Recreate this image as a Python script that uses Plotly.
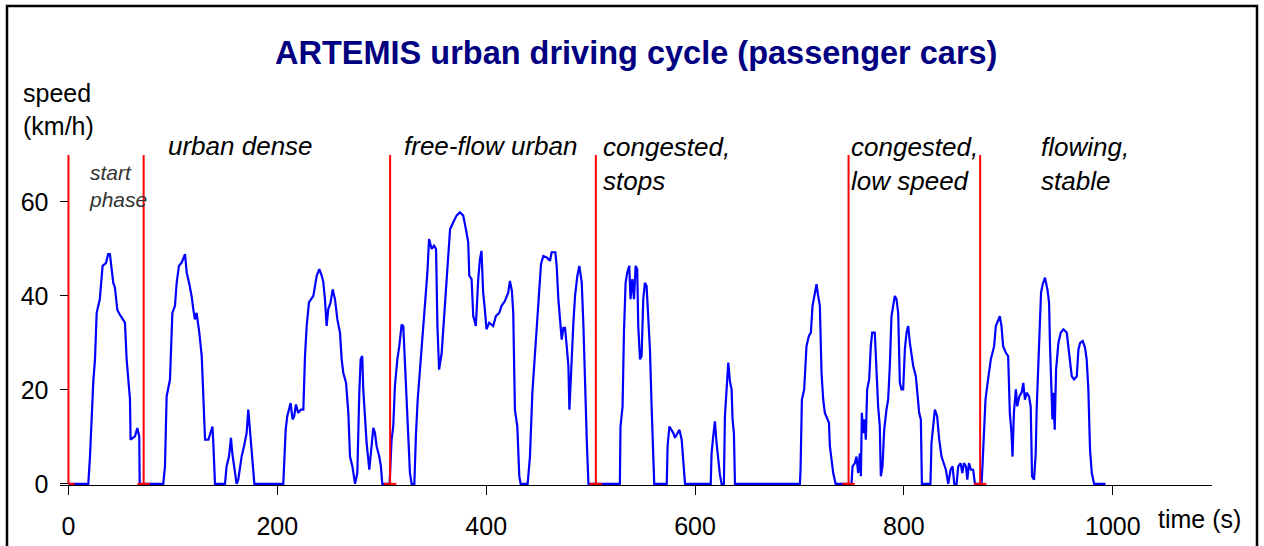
import plotly.graph_objects as go

# ---------------- data ----------------
time_s = [0, 19, 20.6, 22.2, 23.8, 25.4, 27, 30, 32.7, 35.9, 38, 39.7, 41.3, 42.9, 44.5, 46.8, 49.3, 52.5, 54.1, 55.7,
          58.9, 59.5, 63.7, 65.9, 67.8, 68.2,
          90.8, 92.4, 94, 97.2, 99.5, 102, 103.6, 105.8, 108.4, 111.6, 113.2, 115.8, 117.9, 119.5, 121.1, 122.7, 125.3,
          127.6, 129.2, 130.8, 134, 136.1, 137.9, 138.7, 139.6, 140.3,
          149.9, 151.4, 153.7, 155.6, 156.9, 158.8, 161, 162.6, 164.3, 165.8, 168.1, 170.6, 172.2, 173.8, 175.4, 177, 178,
          205.7, 206.6, 208, 209.5, 211.1, 212.7, 214.6, 216.2, 217.8, 220, 222.6, 224.9, 226.5, 228.1, 230.3, 234.5,
          237.7, 240.2, 242.5, 244, 245.6, 247.2, 248.8, 251, 253, 255.2, 257.5, 260, 261.6, 263.2, 265.8, 268, 269.6,
          271.9, 274.4, 276.6, 278.5, 279.8, 281.3, 282.3, 283.9, 285.5, 288.1, 289.6, 291.9, 293.5, 295.1, 297.6, 299.2,
          300.5,
          307.5, 309.4, 311, 312.6, 314.9, 316.8, 319, 320.6, 322.2, 323.8, 325.4, 327, 328.6, 331.2, 332.8, 334.4, 336.6,
          339.2, 341.4, 343.7, 345.3, 347.8, 350.1, 352, 353.3, 354.9, 357.4, 359.7, 362.2, 365.4, 368.5, 371.6, 374.8,
          378, 380.6, 382.8, 383.8, 386, 387.6, 390.1, 392.4, 394, 395.5, 397.1, 398.7, 400.3, 402.9, 406.7, 409.3, 412.5,
          414.7, 417.9, 421.1, 422.7, 424.6, 425.9, 427.5, 429.8, 431.7, 433, 439.7, 441.9, 444.2, 445.8, 447.7, 449.3,
          450.9, 452.5, 454.7, 457.9, 461.1, 462.7, 466.2, 467.5, 469.1, 470.7, 472.3, 473.9, 475.5, 477.1, 478.7, 479.7,
          480.9, 483.5, 485.1, 487.3, 489.2, 491.5, 493.1, 494.7, 496.3, 497.9,
          528, 528.6, 530.6, 531.9, 533.5, 535.1, 537, 538.2, 539.9, 541.5, 543.1, 544.6, 545.6, 547.3, 548.8, 550.4, 552,
          553.6, 555.2, 556.8, 558.4, 560, 560.9, 572.9, 573.7, 575.4, 577.6, 579.2, 580.8, 583, 585, 587.2, 588.8, 590.4,
          615, 615.8, 617.4, 619, 620.6, 622.2, 623.8, 625.4, 627.6, 628.6, 630.2, 631.8, 633.4, 635, 635.9, 637.2, 638.2,
          700.4, 701, 702.3, 704.5, 706.7, 709, 710.9, 712.5, 714.1, 716.3, 717.9, 719.5, 721.1, 722.7, 724.3, 726.6,
          728.2, 729.1, 730.7, 732.3, 734.6,
          749.8, 750.8, 753, 754.6, 756.2, 757.8, 758.8, 759.7, 761, 762.3, 763.5, 764.8, 766.7, 768.3, 769.6, 772.1,
          773.7, 775.3, 776.9, 777.9, 779.5, 781.1, 783.3, 784.9, 786.5, 788.1, 789.7, 791.3, 792.9, 794.5, 796.1, 797.7,
          799.3, 800.9, 802.5, 804.1, 805.7, 807.3, 808.9, 811.4, 813, 814.6, 816.2, 817.2, 825.4, 826.4, 828, 829.6,
          831.8, 833.8, 836, 838.2, 840.2, 842.4, 844.7, 846.6, 848.2, 850.4, 852, 854.3, 855.9, 857.5, 859.4, 860.7,
          862.3, 864.2, 866.3, 868,
          874.3, 875.2, 876.5, 878.1, 879.7, 881.3, 883.2, 884.8, 886.4, 888, 890.2, 891.8, 893.4, 895, 897.6, 899.8,
          901.4, 903, 904, 905.3, 907.2, 908.5, 910.5, 912.7, 914.3, 915.9, 917.5, 919.8, 921.4, 922.7, 924.6, 926.2,
          927.1, 928.7, 930.3, 931.3, 932.9, 935.1, 937.4, 939, 939.9, 940.9, 942.2, 943.1, 944.4, 945.7, 947.9, 950.2,
          952.7, 955.9, 957.5, 959.1, 960.7, 962.9, 965.5, 967.1, 968.7, 971.2, 973.4, 975, 976.6, 978.2, 979.9, 982.1,
          993]

speed_kmh = [0, 0, 5.8, 14, 21.8, 26.5, 36.4, 39.3, 46.4, 47, 48.9, 48.9, 45.3, 42.8, 41.8, 37, 36, 35, 34.3, 26.5,
             18, 9.4, 10.1, 11.9, 10.1, 0,
             0, 3.7, 18.6, 22.2, 36.4, 37.9, 42.8, 46.4, 47.1, 48.9, 45, 42.5, 40, 37.2, 35, 36.4, 32.2,
             27.2, 16.5, 9.4, 9.4, 10.8, 12.2, 8.7, 3.7, 0,
             0, 3.7, 5.8, 9.8, 6.5, 3.7, 0, 0.9, 3.7, 5.8, 8, 10.8, 15.8, 11.5, 8, 2.3, 0,
             0, 6.5, 11.5, 14.4, 15.8, 17.2, 13.7, 14.4, 16.9, 15.1, 15.8, 15.8, 27.2, 33.6, 38.6, 40,
             44.3, 45.7, 44.3, 43, 39.3, 33.6, 37.2, 38.6, 41.4, 39.3, 35, 32.2, 26.5, 23.6, 21.5, 15.1, 5.8,
             3.7, 0, 2.3, 19.4, 26.5, 27.2, 20.1, 14.4, 8.7, 3, 6.5, 11.9, 10.8, 8, 5.8, 3.7,
             0,
             0, 9.4, 12.2, 20.8, 26.5, 29.3, 33.9, 33.6, 26.5, 18.6, 10.1, 2.3, 0, 0, 10.8, 17.9, 24.3,
             32.2, 40, 45, 52.1, 50, 50.7, 50, 33.6, 24.3, 27.9, 35.7, 43.6, 54.2, 55.7, 57.1, 57.8,
             57.1, 54.2, 51.4, 44.3, 43.6, 35.7, 33.6, 43.6, 47.8, 49.6, 40.7, 37.2, 32.9, 34.3, 33.6, 35.7, 36.4,
             37.9, 38.9, 40.7, 43.2, 41.1, 36.4, 15.8, 12.2, 1.6, 0, 0, 5.8, 19.4, 25.1, 30.7, 37.9,
             42.1, 46.8, 48.5, 48.2, 47.5, 49.3, 49.3, 46.4, 39.3, 34.3, 30.7, 33.2, 33.2, 29.3, 25.1, 15.8,
             22.9, 34.3, 40, 44.3, 46.4, 42.8, 33.6, 20.1, 9.4, 0,
             0, 12.2, 16.5, 32.2, 42.8, 45, 46.4, 39.3, 43.6, 39.3, 46.4, 45.7, 33.6, 26.5, 27.2, 39.3, 42.8,
             42.1, 35, 28.6, 16.5, 3.7, 0, 0, 8, 12.2, 11.5, 10.8, 9.8, 10.8, 11.5, 9.4, 3.7, 0,
             0, 6.5, 10.1, 13.3, 8.7, 4.4, 1.9, 0, 0, 14.4, 20.4, 25.8, 21.8, 20.1, 13.7, 10.8, 0,
             0, 3, 17.9, 20.1, 29.3, 31.5, 32.2, 37.9, 40, 42.5, 40, 37.9, 23.6, 17.9, 15.1, 14,
             13, 8, 5.1, 2.3, 0,
             0, 3.7, 4.4, 5.8, 2.3, 6.5, 1.6, 15.1, 10.8, 13.7, 9.4, 20.1, 22.2, 29.3, 32.2, 32.2,
             22.9, 16.5, 12.2, 1.6, 3.7, 11.5, 15.8, 17.9, 25.1, 35.7, 37.9, 40, 39.3, 36.4, 21.5, 20.1,
             20.1, 28.6, 32.2, 33.6, 30, 27.2, 25.1, 22.9, 19.4, 15.1, 13.7, 0, 0, 8.7, 12.2, 15.8,
             14.4, 9.4, 5.8, 4.4, 3, 0, 3, 3.7, 0, 0, 3.7, 4.4, 2.3, 4.4, 3.7, 0.9,
             4.4, 3, 3, 0,
             0, 3.7, 10.8, 17.9, 20.8, 23.6, 26.5, 27.9, 29.3, 33.6, 35, 35.7, 33.6, 29.3, 27.9, 27.2,
             15.1, 10.8, 5.8, 15.1, 20.1, 16.5, 18.6, 19.4, 21.5, 17.9, 19.4, 18.6, 16.5, 1.6, 0.9, 6.5,
             15.8, 25.1, 32.2, 40.7, 42.5, 43.9, 41.4, 38.6, 29.3, 21.5, 13.7, 19.4, 11.5, 24.3, 30, 32.2,
             32.9, 32.2, 28.6, 25.1, 22.9, 22.2, 22.9, 28.6, 30, 30.4, 29, 26.5, 20.1, 7.3, 2.3, 0,
             0]

phase_bounds = [0, 72, 308, 505, 747, 873]
bound_top = 70
foot_half = 6

x_ticks = [0, 200, 400, 600, 800, 1000]
y_ticks = [0, 20, 40, 60]

title_text = "ARTEMIS urban driving cycle (passenger cars)"
phase_labels = ["<i>urban dense</i>", "<i>free-flow urban</i>", "<i>congested,<br>stops</i>",
                "<i>congested,<br>low speed</i>", "<i>flowing,<br>stable</i>"]

# ---------------- layout geometry ----------------
W, H = 1264, 546
ML, MR, MT, MB = 60, 52, 155, 61
PW, PH = W - ML - MR, H - MT - MB
XR = [-8.1, 1095]
YR = [-0.25, 70]


def px_x(px):
    return (px - ML) / PW


def px_y(py):
    return (H - MB - py) / PH


FONT = "Liberation Sans, Arial, sans-serif"

fig = go.Figure()
fig.add_trace(go.Scatter(x=time_s, y=speed_kmh, mode="lines",
                         line=dict(color="#0000FF", width=2.2), showlegend=False, hoverinfo="skip"))

rx, ry = [], []
for b in phase_bounds:
    rx += [max(b - foot_half, 0), b + foot_half, None, b, b, None]
    ry += [0, 0, None, 0, bound_top, None]
fig.add_trace(go.Scatter(x=rx, y=ry, mode="lines", line=dict(color="#FF0000", width=2),
                         showlegend=False, hoverinfo="skip"))

ypos = (0 - XR[0]) / (XR[1] - XR[0])

fig.update_layout(
    width=W, height=H, autosize=False,
    margin=dict(l=ML, r=MR, t=MT, b=MB, pad=0, autoexpand=False),
    paper_bgcolor="white", plot_bgcolor="white",
    font=dict(family=FONT, color="black", size=25),
    showlegend=False,
    xaxis=dict(range=XR, tickvals=x_ticks, ticks="outside", ticklen=9, tickwidth=1, tickcolor="black",
               showline=True, linecolor="black", linewidth=1, showgrid=False, zeroline=False,
               tickfont=dict(size=25, family=FONT, color="black"), ticklabelstandoff=10, anchor="y",
               automargin=False),
    xaxis2=dict(range=XR, tickvals=x_ticks, ticks="inside", ticklen=4, tickwidth=1, tickcolor="black",
                overlaying="x", anchor="y", side="bottom", showline=False, showgrid=False,
                zeroline=False, showticklabels=False, automargin=False),
    yaxis=dict(range=YR, tickvals=y_ticks, ticks="outside", ticklen=8, tickwidth=1, tickcolor="black",
               showline=False, showgrid=False, zeroline=False, anchor="free", position=ypos,
               tickfont=dict(size=25, family=FONT, color="black"), ticklabelstandoff=7, automargin=False),
    yaxis2=dict(range=YR, tickvals=y_ticks, ticks="inside", ticklen=8, tickwidth=1, tickcolor="black",
                overlaying="y", anchor="free", position=ypos, side="left", showline=False,
                showgrid=False, zeroline=False, showticklabels=False, automargin=False),
)

ann = []
ann.append(dict(text="<b>" + title_text + "</b>", x=0.5, y=px_y(53), xref="paper", yref="paper",
                xanchor="center", yanchor="middle", showarrow=False,
                font=dict(size=32.5, color="#000080", family=FONT)))
ann.append(dict(text="speed<br>(km/h)", x=px_x(21), y=px_y(109), xref="paper", yref="paper",
                xanchor="left", yanchor="middle", align="left", showarrow=False,
                font=dict(size=25, color="black", family=FONT)))
ann.append(dict(text="<i>start<br>phase</i>", x=px_x(87), y=px_y(186), xref="paper", yref="paper",
                xanchor="left", yanchor="middle", align="left", showarrow=False,
                font=dict(size=21, color="#333333", family=FONT)))
label_pos = [(166, 146.5), (402, 146.5), (601, 163.5), (849, 163.5), (1039, 163.5)]
for txt, (lx, ly) in zip(phase_labels, label_pos):
    ann.append(dict(text=txt, x=px_x(lx), y=px_y(ly), xref="paper", yref="paper",
                    xanchor="left", yanchor="middle", align="left", showarrow=False,
                    font=dict(size=26, color="black", family=FONT)))
ann.append(dict(text="time (s)", x=px_x(1156), y=px_y(519), xref="paper", yref="paper",
                xanchor="left", yanchor="middle", showarrow=False,
                font=dict(size=25, color="black", family=FONT)))
fig.update_layout(annotations=ann)

fig.add_shape(type="rect", xref="paper", yref="paper",
              x0=px_x(7), x1=px_x(1257), y0=px_y(600), y1=px_y(6),
              line=dict(color="black", width=2.5), fillcolor="rgba(0,0,0,0)", layer="above")

fig.write_html("out.html", config={"displayModeBar": False, "staticPlot": True},
               post_script="document.body.style.margin='0';document.body.style.overflow='hidden';")
